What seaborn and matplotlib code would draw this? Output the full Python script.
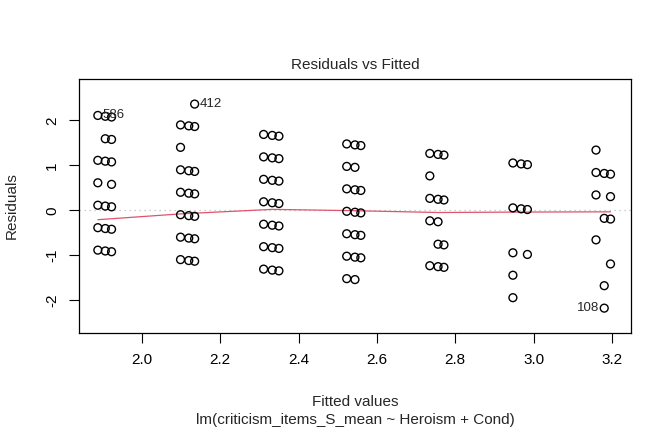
import numpy as np
import pandas as pd
import matplotlib
matplotlib.use("Agg")
import matplotlib.pyplot as plt
import seaborn as sns

# fitted values for each Heroism level (7 groups) and Cond level (3 sub-columns)
fitted_c1 = [1.888, 2.099, 2.311, 2.523, 2.735, 2.947, 3.159]
fitted_c2 = [1.907, 2.120, 2.333, 2.544, 2.756, 2.968, 3.180]
fitted_c3 = [1.923, 2.135, 2.350, 2.559, 2.771, 2.984, 3.196]

obs_c1 = [[4.0, 3.0, 2.5, 2.0, 1.5, 1.0],
          [4.0, 3.5, 3.0, 2.5, 2.0, 1.5, 1.0],
          [4.0, 3.5, 3.0, 2.5, 2.0, 1.5, 1.0],
          [4.0, 3.5, 3.0, 2.5, 2.0, 1.5, 1.0],
          [4.0, 3.5, 3.0, 2.5, 1.5],
          [4.0, 3.0, 2.0, 1.5, 1.0],
          [4.5, 4.0, 3.5, 2.5]]
obs_c2 = [[4.0, 3.5, 3.0, 2.0, 1.5, 1.0],
          [4.0, 3.0, 2.5, 2.0, 1.5, 1.0],
          [4.0, 3.5, 3.0, 2.5, 2.0, 1.5, 1.0],
          [4.0, 3.5, 3.0, 2.5, 2.0, 1.5, 1.0],
          [4.0, 3.0, 2.5, 2.0, 1.5],
          [4.0, 3.0],
          [4.0, 3.0, 1.5, 1.0]]
obs_c3 = [[4.0, 3.5, 3.0, 2.5, 2.0, 1.5, 1.0],
          [4.5, 4.0, 3.0, 2.5, 2.0, 1.5, 1.0],
          [4.0, 3.5, 3.0, 2.5, 2.0, 1.5, 1.0],
          [4.0, 3.0, 2.5, 2.0, 1.5],
          [4.0, 3.0, 2.0, 1.5],
          [4.0, 3.0, 2.0],
          [4.0, 3.5, 3.0, 2.0]]

# lowess smoother (red line)
smooth_x = [1.888, 2.100, 2.333, 2.544, 2.756, 2.968, 3.196]
smooth_y = [-0.21, -0.08, 0.02, -0.01, -0.05, -0.04, -0.035]

# labelled observations: id, fitted, observed
label_ids = ["586", "412", "108"]
label_fit = [1.888, 2.135, 3.180]
label_obs = [4.0, 4.5, 1.0]

rows = []
for fits, obs in [(fitted_c1, obs_c1), (fitted_c2, obs_c2), (fitted_c3, obs_c3)]:
    for f, ys in zip(fits, obs):
        for y in ys:
            rows.append({"fitted": f, "resid": y - f})
df = pd.DataFrame(rows)

sns.set_style("ticks")
plt.rcParams['font.family'] = ['Liberation Sans', 'DejaVu Sans']

fig = plt.figure(figsize=(6.72, 4.32), dpi=100)
ax = fig.add_axes([0.117, 0.2285, 0.8224, 0.5893])

ax.axhline(0, color="#BEBEBE", lw=0.9, ls=(0, (1, 3)), zorder=1)
sns.scatterplot(data=df, x="fitted", y="resid", ax=ax, marker="o", s=32,
                facecolor="none", edgecolor="black", linewidth=1.0, zorder=3)
sns.lineplot(x=smooth_x, y=smooth_y, ax=ax, color="#DF536B", lw=0.9, zorder=2)

for lid, f, o in zip(label_ids, label_fit, label_obs):
    r = o - f
    if f < 2.6:
        ax.text(f + 0.012, r, lid, fontsize=9.5, ha="left", va="center")
    else:
        ax.text(f - 0.012, r, lid, fontsize=9.5, ha="right", va="center")

ax.set_xlim(1.839, 3.249)
ax.set_ylim(-2.74, 2.93)
ax.set_xticks([2.0, 2.2, 2.4, 2.6, 2.8, 3.0, 3.2])
ax.set_xticklabels(["2.0", "2.2", "2.4", "2.6", "2.8", "3.0", "3.2"])
ax.set_yticks([-2, -1, 0, 1, 2])
ax.set_yticklabels(["-2", "-1", "0", "1", "2"], rotation=90, va="center")
ax.tick_params(axis="both", direction="out", length=7, width=0.8,
               labelsize=11, colors="black", pad=7)
for sp in ax.spines.values():
    sp.set_visible(True)
    sp.set_color("black")
    sp.set_linewidth(0.9)

ax.set_xlabel("")
ax.set_ylabel("")
fig.text(0.5 * (0.117 + 0.9394), 1 - 65 / 432, "Residuals vs Fitted",
         ha="center", va="center", fontsize=11)
fig.text(0.5 * (0.117 + 0.9394), 1 - 402 / 432, "Fitted values",
         ha="center", va="center", fontsize=11)
fig.text(0.5 * (0.117 + 0.9394), 1 - 420 / 432,
         "lm(criticism_items_S_mean ~ Heroism + Cond)",
         ha="center", va="center", fontsize=11)
fig.text(12 / 672, 1 - 206 / 432, "Residuals", rotation=90,
         ha="center", va="center", fontsize=11)

fig.savefig("out.png", dpi=100, facecolor="white")
